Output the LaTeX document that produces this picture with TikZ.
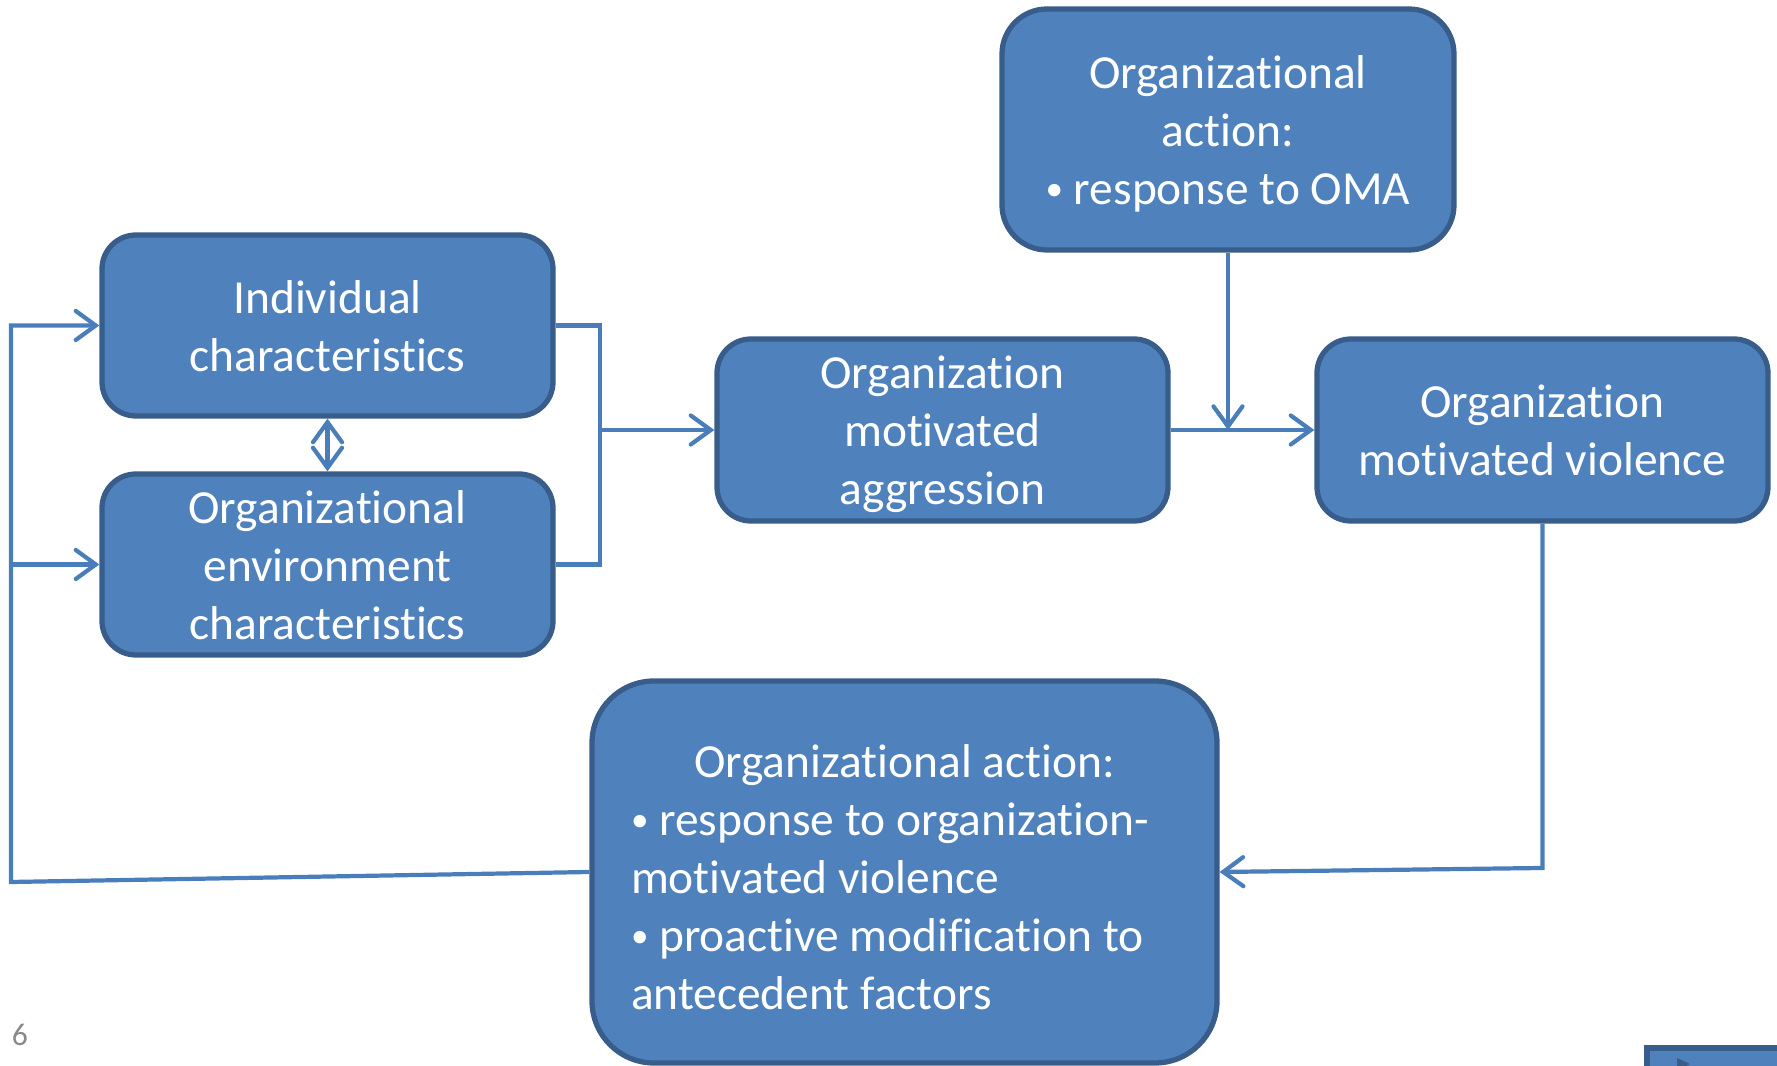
\documentclass[tikz,border=0pt]{standalone}
\usepackage{fontspec}
\setmainfont[Ligatures={NoCommon,NoContextual,NoRare}]{Carlito}
\usetikzlibrary{arrows.meta}
\definecolor{boxfill}{HTML}{4F81BD}
\definecolor{boxline}{HTML}{385D8A}
\definecolor{linkblue}{HTML}{4A7EBB}
\definecolor{pagenum}{HTML}{898989}
\newcommand{\blt}{{\fontsize{10}{10}\selectfont\raisebox{0.2ex}{•}}}
\newcommand{\toprow}[1][12.6pt]{\rule{0pt}{#1}}
\tikzset{
  factor/.style={rectangle, rounded corners=0.34cm, fill=boxfill, draw=boxline,
    line width=1.5pt, text=white, align=center, inner sep=0pt,
    font=\fontsize{13.5}{16.5}\selectfont,
    execute at end node={\rule[-3pt]{0pt}{0pt}}},
  barb/.tip={Straight Barb[length=2mm,width=2.9mm,line cap=round]},
  link/.style={draw=linkblue, line width=1.2pt, -barb},
  plain/.style={draw=linkblue, line width=1.2pt}
}
\begin{document}
\begin{tikzpicture}
			\useasboundingbox (0, 0) rectangle (17.77, -10.66);

			\node (indiv) [factor, minimum width=4.51cm, minimum height=1.81cm] at (3.275, -3.255) {\toprow Individual\\characteristics};
			\node (orgenv) [factor, minimum width=4.51cm, minimum height=1.81cm] at (3.275, -5.645) {\toprow Organizational\\environment\\characteristics};
			\node (oma) [factor, minimum width=4.51cm, minimum height=1.82cm] at (9.425, -4.30) {\toprow Organization\\motivated\\aggression};
			\node (omv) [factor, minimum width=4.51cm, minimum height=1.82cm] at (15.425, -4.30) {\toprow Organization\\motivated violence};
			\node (actoma) [factor, rounded corners=0.45cm, minimum width=4.52cm, minimum height=2.41cm] at (12.28, -1.295) {\toprow Organizational\\action:\\\blt\ response to OMA};
			\node (actomv) [factor, rounded corners=0.62cm, minimum width=6.25cm, minimum height=3.82cm, align=left] at (9.045, -8.72)
				{\toprow[15pt]\makebox[5.47cm]{Organizational action:}\\\blt\ response to organization-\\motivated violence\\\blt\ proactive modification to\\antecedent factors};

			\coordinate (fbl) at (0.11, -8.82);
			\coordinate (fbr) at (15.425, -8.68);

			\draw [plain] (indiv.east) -- ++(0.44, 0) coordinate (jn) |- (orgenv.east);
			\draw [link] (jn |- oma.west) -- (oma.west);
			\draw [link, barb-barb] (indiv.south) -- (orgenv.north);
			\draw [link] (oma.east) -- (omv.west);
			\draw [link] (actoma.south) -- (actoma.south |- oma.east);
			\draw [link] (omv.south) -- (fbr) -- (actomv.east);
			\draw [link] (actomv.west) -- (fbl) |- (indiv.west);
			\draw [link] (fbl |- orgenv.west) -- (orgenv.west);

			\node (pgnum) at (0.20, -10.35) [text=pagenum, font=\fontsize{9}{10}\selectfont] {6};
			\fill [boxfill, draw=boxline, line width=1.5pt] (16.47, -10.48) rectangle (18.2, -11.2);
			\fill [boxline] (16.77, -10.58) -- (16.9, -10.64) -- (16.77, -10.70) -- cycle;
		\end{tikzpicture}
\end{document}
